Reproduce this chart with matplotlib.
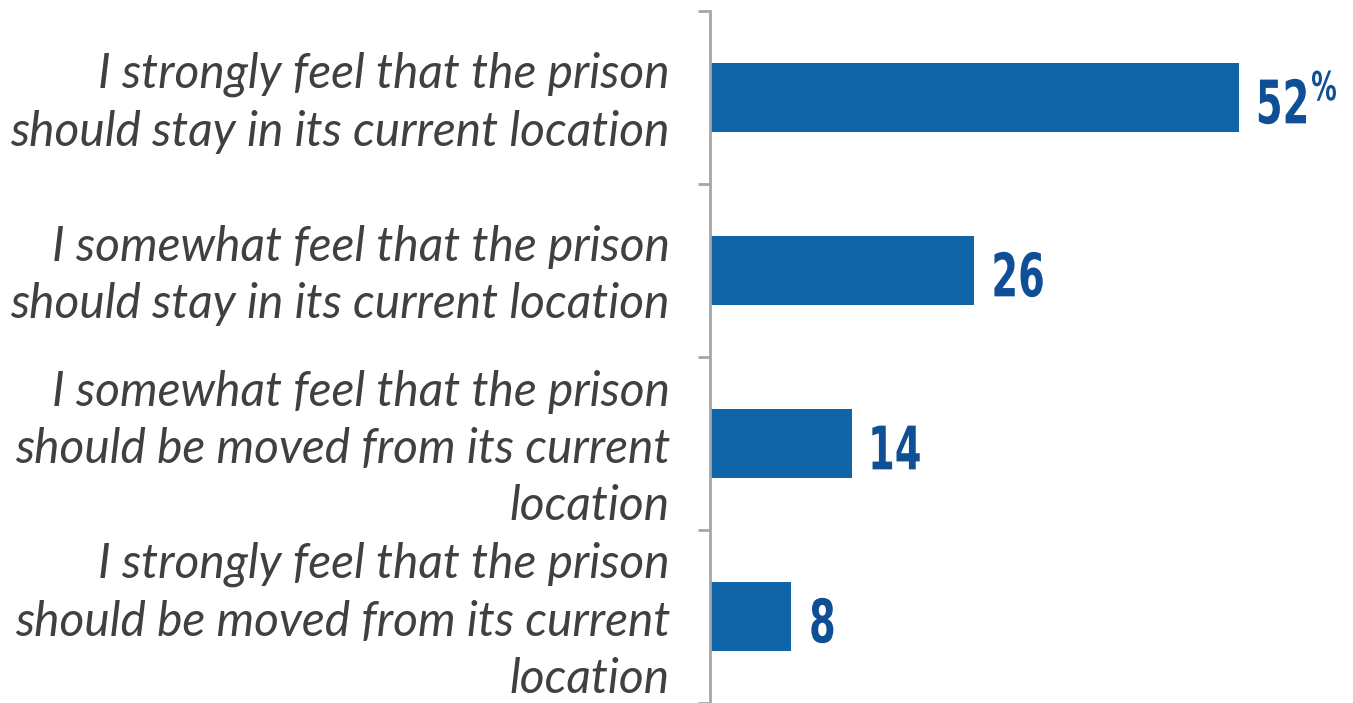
import matplotlib.pyplot as plt
from matplotlib.ticker import FixedLocator
from matplotlib.textpath import TextPath
from matplotlib.patches import PathPatch
from matplotlib.font_manager import FontProperties
from matplotlib.transforms import Affine2D, ScaledTranslation

labels = [
    "I strongly feel that the prison\nshould stay in its current location",
    "I somewhat feel that the prison\nshould stay in its current location",
    "I somewhat feel that the prison\nshould be moved from its current\nlocation",
    "I strongly feel that the prison\nshould be moved from its current\nlocation",
]
values = [52, 26, 14, 8]

bar_color = "#1065a8"
num_color = "#0f4f96"
text_color = "#404040"
axis_color = "#a6a6a6"

W, H = 1353, 703
px_per_unit = 10.17  # bar length in pixels per percentage point

fig = plt.figure(figsize=(W / 100, H / 100), dpi=100)
ax = fig.add_axes([710 / W, 0, 1 - 710 / W, 1 - 11 / H])

y = list(range(len(values)))
ax.barh(y, values, height=0.40, color=bar_color)
ax.set_ylim(len(values) - 0.5, -0.5)
ax.set_xlim(0, (W - 710) / px_per_unit)

for s in ["top", "right", "bottom"]:
    ax.spines[s].set_visible(False)
ax.spines["left"].set_color(axis_color)
ax.spines["left"].set_linewidth(2)
ax.set_xticks([])
ax.yaxis.set_major_locator(FixedLocator([i - 0.5 for i in range(len(values) + 1)]))
ax.set_yticklabels([])
ax.tick_params(axis="y", length=9, width=2, color=axis_color, direction="out")

for i, lab in enumerate(labels):
    ax.text(-40 / px_per_unit, i + 0.03, lab, ha="right", va="center", fontsize=34.5,
            style="italic", color=text_color, family="Lato", linespacing=1.36,
            clip_on=False)

# condensed bold numbers: squeeze DejaVu Sans Bold glyph outlines horizontally
bold = FontProperties(family="DejaVu Sans", weight="bold")
squeeze = 0.64


def condensed(s, x, yv, size_px, dx, dy, anchor="center"):
    path = TextPath((0, 0), s, size=size_px, prop=bold)
    ext = path.get_extents()
    ref_y = (ext.y0 + ext.y1) / 2 if anchor == "center" else ext.y1
    tr = (Affine2D().translate(-ext.x0, -ref_y).scale(squeeze, 1).translate(dx, dy)
          + ScaledTranslation(x, yv, ax.transData))
    ax.add_patch(PathPatch(path, transform=tr, facecolor=num_color, lw=0,
                           clip_on=False))
    return squeeze * (ext.x1 - ext.x0)


for i, v in enumerate(values):
    w = condensed(str(v), v, i, 60, 20, -4)
    if i == 0:
        condensed("%", v, i, 40, 20 + w + 6, 27, anchor="top")

fig.savefig("out.png", dpi=100)
